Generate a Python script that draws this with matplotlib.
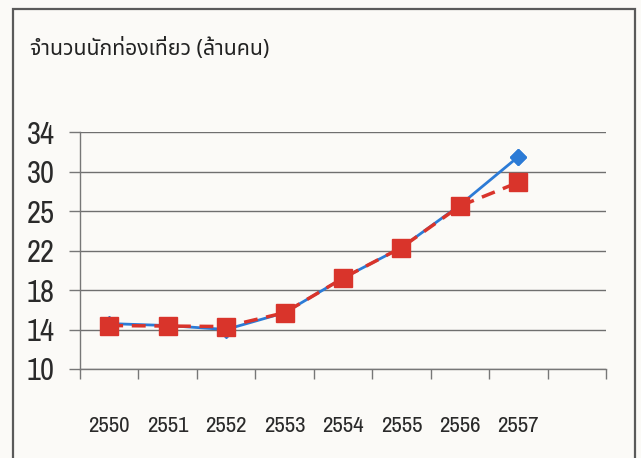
# Thai tourists chart (2550-2557), number of tourists in millions

import matplotlib
matplotlib.use("Agg")
import matplotlib.pyplot as plt
from matplotlib.patches import Rectangle

# data
years = ["2550", "2551", "2552", "2553", "2554", "2555", "2556", "2557"]
actual = [14.6, 14.4, 14.0, 15.7, 19.2, 22.3, 26.6, 31.5]
forecast = [14.4, 14.35, 14.3, 15.7, 19.2, 22.3, 26.5, 28.9]
ytick_vals = [10, 14, 18, 22, 26, 30, 34]
ytick_labels = ["10", "14", "18", "22", "25", "30", "34"]
title = "จำนวนนักท่องเที่ยว (ล้านคน)"

num_font = ["Archivo Narrow", "Roboto Condensed", "Liberation Sans Narrow", "DejaVu Sans"]
thai_font = ["Noto Sans Thai", "Sarabun", "Anuphan", "DejaVu Sans"]

bg = "#fbfaf7"
fig = plt.figure(figsize=(6.41, 4.58), dpi=100, facecolor=bg)
ax = fig.add_axes([80 / 641, 1 - 369 / 458, 526 / 641, 237 / 458])
ax.set_facecolor(bg)

x = list(range(len(years)))

# blue solid line with diamonds, red dashed line with squares on top
ax.plot(x, actual, color="#2c7bd6", lw=2, marker="D", ms=8, zorder=3)
ax.plot(x, forecast, color="#d9342b", lw=2.5, ls=(0, (4, 2.5)), marker="s",
        ms=13, zorder=4)
# keep the last blue diamond visible above the red line
ax.plot(x[-1:], actual[-1:], color="#2c7bd6", marker="D", ms=8, ls="none", zorder=5)

ax.set_xlim(-0.5, 8.5)
ax.set_ylim(10, 34)

ax.set_yticks(ytick_vals)
ax.set_yticklabels(ytick_labels, family=num_font, fontsize=22, color="#2a2a2a")
ax.tick_params(axis="y", length=8, width=1, color="#777777", pad=10)
ax.grid(axis="y", color="#6f6f6f", lw=1)

ax.set_xticks(x)
ax.set_xticklabels(years, family=num_font, fontsize=16.5, weight="medium", color="#2a2a2a")
ax.tick_params(axis="x", length=0, pad=34)
ax.set_xticks([i - 0.5 for i in range(10)], minor=True)
ax.tick_params(axis="x", which="minor", length=7, width=1, color="#777777", direction="out")

for s in ["top", "right"]:
    ax.spines[s].set_visible(False)
for s in ["left", "bottom"]:
    ax.spines[s].set_color("#777777")
    ax.spines[s].set_linewidth(1)

fig.text(30 / 641, 1 - 49 / 458, title, family=thai_font, fontsize=15.3, weight="medium",
         color="#222222", va="center", ha="left")

# outer frame
frame = Rectangle((13 / 641, -0.05), 622 / 641, 1.05 - 9 / 458, transform=fig.transFigure,
                  fill=False, edgecolor="#5a5a5a", lw=1.6, clip_on=False)
fig.patches.append(frame)

fig.savefig("out.png", dpi=100, facecolor=bg)
